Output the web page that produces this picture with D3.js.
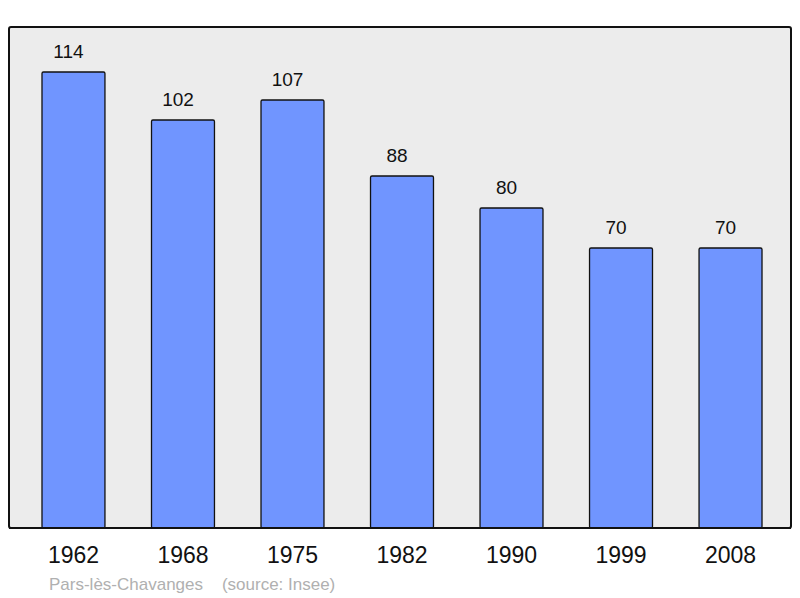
<!DOCTYPE html>
<html>
<head>
<meta charset="utf-8">
<script src="https://cdn.jsdelivr.net/npm/d3@7"></script>
<style>
  body { margin: 0; background: #fff; }
  svg { display: block; font-family: "Liberation Sans", Arial, sans-serif; }
</style>
</head>
<body>
<div id="viz"></div>
<script>
// population by census year
var years = ['1962', '1968', '1975', '1982', '1990', '1999', '2008'];
var population = [114, 102, 107, 88, 80, 70, 70];
var commune = 'Pars-lès-Chavanges';
var source = '(source: Insee)';

var width = 800, height = 598;
var frame = { left: 9, top: 27, right: 791, bottom: 528 };

var svg = d3.select('#viz').append('svg')
  .attr('width', width).attr('height', height);

var x = d3.scaleBand()
  .domain(years)
  .range([frame.left + 2, frame.right + 2])
  .paddingInner(0.425)
  .paddingOuter(0.283);

var y = d3.scaleLinear()
  .domain([0, 125])
  .range([frame.bottom, frame.bottom - 500]);

// plot background
svg.append('rect')
  .attr('x', frame.left).attr('y', frame.top)
  .attr('width', frame.right - frame.left)
  .attr('height', frame.bottom - frame.top)
  .attr('rx', 2)
  .attr('fill', '#ececec')
  .attr('stroke', '#111').attr('stroke-width', 2);

var data = years.map(function(d, i) { return { year: d, value: population[i] }; });

svg.append('g').selectAll('rect')
  .data(data).enter().append('rect')
  .attr('x', function(d) { return x(d.year); })
  .attr('y', function(d) { return y(d.value); })
  .attr('width', x.bandwidth())
  .attr('height', function(d) { return y(0) - y(d.value); })
  .attr('rx', 1.5)
  .attr('fill', '#7095ff')
  .attr('stroke', '#111').attr('stroke-width', 1.3);

// value labels
svg.append('g').selectAll('text')
  .data(data).enter().append('text')
  .attr('x', function(d) { return x(d.year) + x.bandwidth() / 2 - 5; })
  .attr('y', function(d) { return y(d.value) - 14; })
  .attr('text-anchor', 'middle')
  .attr('font-size', 19)
  .attr('fill', '#111')
  .text(function(d) { return d.value; });

// redraw bottom edge over bars
svg.append('line')
  .attr('x1', frame.left).attr('x2', frame.right)
  .attr('y1', frame.bottom).attr('y2', frame.bottom)
  .attr('stroke', '#111').attr('stroke-width', 2);

// year axis, no line or ticks
var xAxis = svg.append('g')
  .attr('transform', 'translate(0,' + frame.bottom + ')')
  .call(d3.axisBottom(x).tickSize(0).tickPadding(19));
xAxis.select('.domain').remove();
xAxis.selectAll('text')
  .attr('font-size', 23)
  .attr('font-family', '"Liberation Sans", Arial, sans-serif')
  .attr('fill', '#111');

svg.append('text')
  .attr('x', 49).attr('y', 590)
  .attr('font-size', 17)
  .attr('fill', '#b0b0b0')
  .attr('xml:space', 'preserve')
  .text(commune + '    ' + source);
</script>
</body>
</html>
